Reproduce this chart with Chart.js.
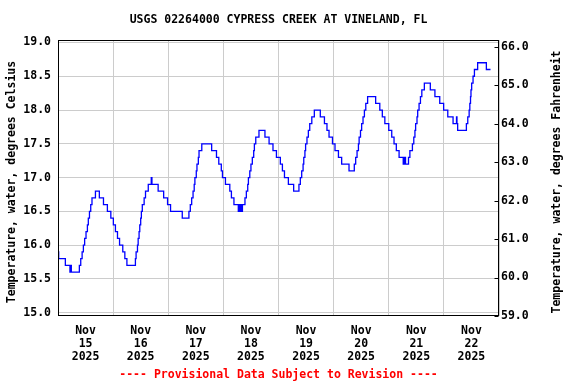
<!DOCTYPE html>
<html>
<head>
<meta charset="utf-8">
<script src="https://cdn.jsdelivr.net/npm/chart.js@4/dist/chart.umd.min.js"></script>
<style>
  html, body { margin: 0; padding: 0; background: #fff; }
  canvas { display: block; }
</style>
</head>
<body>
<canvas id="c" width="576" height="384"></canvas>
<script>
// ---- data (hours since Nov 15 2025 00:00, water temperature in deg C; value holds until next point)
const hours = [0, 0.3, 3.2, 5.2, 5.4, 5.8, 9.3, 9.9, 10.5, 11.05,
  11.6, 12.2, 12.8, 13.2, 13.7, 14.25, 14.8, 16.3, 18.0, 19.8,
  21.5, 23.0, 24.1, 25.0, 25.9, 26.8, 28.2, 29.1, 30.0, 33.7,
  34.0, 34.6, 34.9, 35.3, 35.6, 36.0, 36.3, 36.7, 37.5, 38.1,
  39.3, 40.6, 40.9, 43.6, 46.0, 47.7, 49.0, 54.1, 57.0, 57.6,
  58.2, 58.8, 59.3, 59.6, 60.2, 60.5, 61.1, 61.4, 62.6, 66.9,
  69.0, 70.0, 71.1, 71.6, 72.9, 74.8, 75.5, 76.6, 78.5, 79.0,
  79.3, 79.7, 80.0, 80.3, 81.4, 82.0, 82.6, 82.9, 83.5, 84.0,
  84.6, 85.2, 85.5, 86.1, 87.5, 90.1, 91.9, 93.6, 95.1, 96.8,
  97.7, 98.6, 100.3, 102.6, 104.9, 105.5, 106.1, 106.7, 107.0, 107.5,
  107.8, 108.4, 109.0, 109.6, 110.5, 111.6, 114.2, 116.0, 117.1, 118.0,
  119.5, 120.6, 122.1, 123.5, 126.7, 129.0, 129.6, 130.2, 130.8, 131.1,
  131.7, 132.2, 132.8, 133.4, 134.0, 134.8, 138.3, 140.1, 141.2, 142.3,
  144.0, 145.3, 146.3, 147.3, 148.5, 150.3, 150.8, 151.3, 152.6, 153.2,
  154.3, 154.9, 155.4, 155.7, 156.3, 156.6, 157.2, 157.8, 158.4, 159.5,
  162.1, 164.1, 166.2, 167.9, 169.7, 172.0, 173.5, 173.7, 174.0, 177.8,
  178.4, 179.0, 179.3, 179.6, 179.8, 180.1, 180.7, 181.3, 182.7, 186.5, 188.3];
const tempC = [15.9, 15.8, 15.7, 15.6, 15.7, 15.6, 15.7, 15.8, 15.9, 16.0,
  16.1, 16.2, 16.3, 16.4, 16.5, 16.6, 16.7, 16.8, 16.7, 16.6,
  16.5, 16.4, 16.3, 16.2, 16.1, 16.0, 15.9, 15.8, 15.7, 15.8,
  15.9, 16.0, 16.1, 16.2, 16.3, 16.4, 16.5, 16.6, 16.7, 16.8,
  16.9, 17.0, 16.9, 16.8, 16.7, 16.6, 16.5, 16.4, 16.5, 16.6,
  16.7, 16.8, 16.9, 17.0, 17.1, 17.2, 17.3, 17.4, 17.5, 17.4,
  17.3, 17.2, 17.1, 17.0, 16.9, 16.8, 16.7, 16.6, 16.5, 16.6,
  16.5, 16.6, 16.5, 16.6, 16.7, 16.8, 16.9, 17.0, 17.1, 17.2,
  17.3, 17.4, 17.5, 17.6, 17.7, 17.6, 17.5, 17.4, 17.3, 17.2,
  17.1, 17.0, 16.9, 16.8, 16.9, 17.0, 17.1, 17.2, 17.3, 17.4,
  17.5, 17.6, 17.7, 17.8, 17.9, 18.0, 17.9, 17.8, 17.7, 17.6,
  17.5, 17.4, 17.3, 17.2, 17.1, 17.2, 17.3, 17.4, 17.5, 17.6,
  17.7, 17.8, 17.9, 18.0, 18.1, 18.2, 18.1, 18.0, 17.9, 17.8,
  17.7, 17.6, 17.5, 17.4, 17.3, 17.2, 17.3, 17.2, 17.3, 17.4,
  17.5, 17.6, 17.7, 17.8, 17.9, 18.0, 18.1, 18.2, 18.3, 18.4,
  18.3, 18.2, 18.1, 18.0, 17.9, 17.8, 17.9, 17.8, 17.7, 17.8,
  17.9, 18.0, 18.1, 18.2, 18.3, 18.4, 18.5, 18.6, 18.7, 18.6, 18.6];

// ---- tick labels
const dayMonth = 'Nov';
const dayNumbers = ['15', '16', '17', '18', '19', '20', '21', '22'];
const dayYear = '2025';
const celsiusTicks = [15.0, 15.5, 16.0, 16.5, 17.0, 17.5, 18.0, 18.5, 19.0];
const fahrenheitTicks = [59, 60, 61, 62, 63, 64, 65, 66];

// ---- texts
const chartTitle = 'USGS 02264000 CYPRESS CREEK AT VINELAND, FL';
const footnote = '---- Provisional Data Subject to Revision ----';
const leftAxisTitle = 'Temperature, water, degrees Celsius';
const rightAxisTitle = 'Temperature, water, degrees Fahrenheit';

const FONT = '"DejaVu Sans Mono", monospace';
Chart.defaults.font.family = FONT;
Chart.defaults.font.weight = 'bold';
Chart.defaults.font.size = 11.5;
Chart.defaults.color = '#000';

const points = hours.map((h, i) => ({ x: h, y: tempC[i] }));

const framePlugin = {
  id: 'frame',
  afterDraw(chart) {
    const { ctx, chartArea: a, scales } = chart;
    ctx.save();
    ctx.strokeStyle = '#000';
    ctx.lineWidth = 1;
    const L = Math.round(a.left) + 0.5, R = Math.round(a.right) - 0.5;
    const T = Math.round(a.top) + 0.5, B = Math.round(a.bottom) - 0.5;
    ctx.strokeRect(L, T, R - L, B - T);
    // inward ticks of the Fahrenheit axis
    const yr = scales.yF;
    ctx.beginPath();
    yr.ticks.forEach(t => {
      const y = Math.round(yr.getPixelForValue(t.value)) + 0.5;
      ctx.moveTo(R - 4, y);
      ctx.lineTo(R, y);
    });
    ctx.stroke();
    // axis titles (both read bottom to top)
    ctx.fillStyle = '#000';
    ctx.font = 'bold 11.5px ' + FONT;
    ctx.textAlign = 'center';
    ctx.textBaseline = 'middle';
    const cy = (a.top + a.bottom) / 2 + 4;
    ctx.save();
    ctx.translate(12, cy);
    ctx.rotate(-Math.PI / 2);
    ctx.fillText(leftAxisTitle, 0, 0);
    ctx.restore();
    ctx.save();
    ctx.translate(557, cy);
    ctx.rotate(-Math.PI / 2);
    ctx.fillText(rightAxisTitle, 0, 0);
    ctx.restore();
    ctx.restore();
  }
};

new Chart(document.getElementById('c'), {
  type: 'line',
  data: {
    datasets: [{
      label: 'Temperature',
      data: points,
      stepped: true,
      borderColor: '#0000FF',
      borderWidth: 1.3,
      pointRadius: 0,
      fill: false,
      yAxisID: 'y'
    }]
  },
  options: {
    responsive: false,
    animation: false,
    devicePixelRatio: 1,
    layout: { padding: 0 },
    plugins: {
      legend: { display: false },
      tooltip: { enabled: false },
      title: {
        display: true,
        text: chartTitle,
        fullSize: false,
        color: '#000',
        font: { size: 11.5, weight: 'bold', family: FONT, lineHeight: 1.2 },
        padding: { top: 13.4, bottom: 12.8 }
      },
      subtitle: {
        display: true,
        position: 'bottom',
        text: footnote,
        fullSize: false,
        color: '#FF0000',
        font: { size: 11.5, weight: 'bold', family: FONT, lineHeight: 1.2 },
        padding: { top: 0, bottom: 2.0 }
      }
    },
    scales: {
      x: {
        type: 'linear',
        position: 'bottom',
        min: 0,
        max: 192,
        afterBuildTicks: (axis) => {
          const t = [];
          for (let v = 0; v <= 192; v += 12) t.push({ value: v });
          axis.ticks = t;
        },
        afterFit: (s) => { s.height = 52.2; },
        border: { display: false },
        grid: {
          drawTicks: false,
          color: (c) => (c.tick && c.tick.value % 24 === 0) ? '#CCCCCC' : 'rgba(0,0,0,0)',
          lineWidth: 1
        },
        ticks: {
          autoSkip: false,
          maxRotation: 0,
          minRotation: 0,
          padding: 9,
          color: '#000',
          font: { size: 11.5, weight: 'bold', family: FONT, lineHeight: 1.13 },
          callback: (v) => {
            if (v % 24 !== 12) return '';
            const d = Math.floor(v / 24);
            return [dayMonth, dayNumbers[d], dayYear];
          }
        }
      },
      y: {
        type: 'linear',
        position: 'left',
        min: 14.951,
        max: 19.037,
        afterBuildTicks: (axis) => { axis.ticks = celsiusTicks.map(v => ({ value: v })); },
        afterFit: (s) => { s.width = 58; },
        border: { display: false },
        grid: { drawTicks: false, color: '#CCCCCC', lineWidth: 1 },
        ticks: {
          padding: 7,
          color: '#000',
          font: { size: 11.5, weight: 'bold', family: FONT },
          callback: (v) => Number(v).toFixed(1)
        }
      },
      yF: {
        type: 'linear',
        position: 'right',
        min: 59.0,
        max: 66.17,
        afterBuildTicks: (axis) => { axis.ticks = fahrenheitTicks.map(v => ({ value: v })); },
        afterFit: (s) => { s.width = 77; },
        border: { display: false },
        grid: { display: false, drawTicks: false },
        ticks: {
          padding: 2,
          color: '#000',
          font: { size: 11.5, weight: 'bold', family: FONT },
          callback: (v) => Number(v).toFixed(1)
        }
      }
    }
  },
  plugins: [framePlugin]
});
</script>
</body>
</html>
